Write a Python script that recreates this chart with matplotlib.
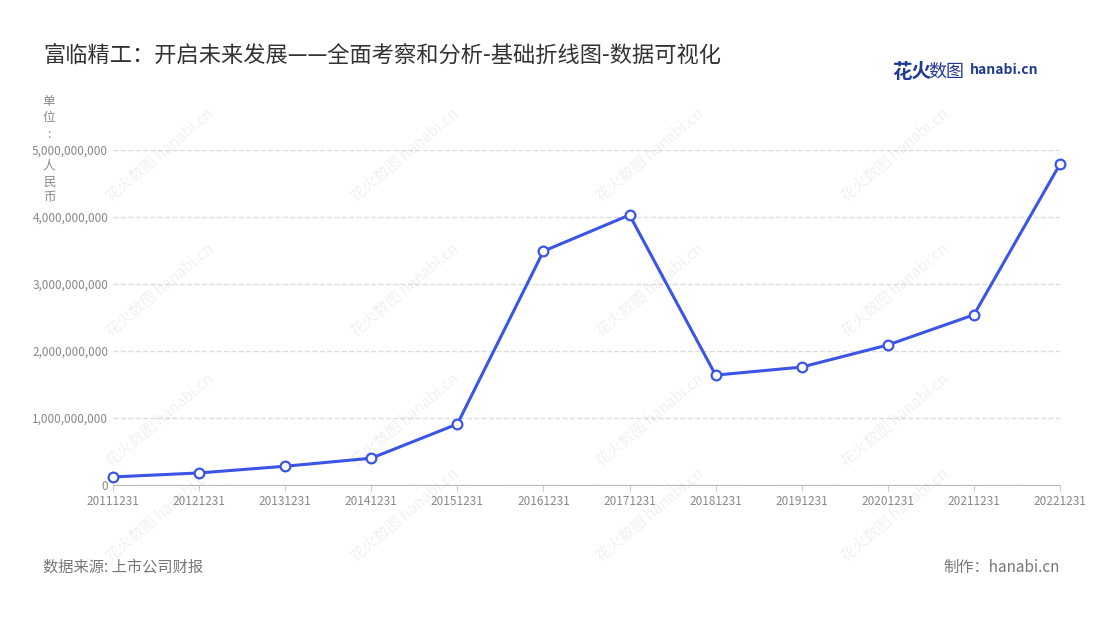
import matplotlib
matplotlib.use("Agg")
import matplotlib.pyplot as plt
from matplotlib.ticker import FuncFormatter

plt.rcParams['font.family'] = ['Noto Sans CJK SC', 'DejaVu Sans']

dates = ['20111231','20121231','20131231','20141231','20151231','20161231',
         '20171231','20181231','20191231','20201231','20211231','20221231']
values = [0.12e9, 0.18e9, 0.28e9, 0.40e9, 0.91e9, 3.49e9,
          4.03e9, 1.64e9, 1.76e9, 2.09e9, 2.54e9, 4.79e9]
yticks = [0, 1e9, 2e9, 3e9, 4e9, 5e9]

fig = plt.figure(figsize=(11, 6.2), dpi=100)
ax = fig.add_axes([113/1100, 1-485/620, (1060-113)/1100, (485-150)/620])
x = list(range(len(dates)))
ax.plot(x, values, color='#3b55e6', lw=2.2, marker='o', ms=7,
        mfc='white', mec='#3b55e6', mew=1.6, zorder=3, clip_on=False)
ax.set_xlim(0, len(dates)-1)
ax.set_ylim(0, 5e9)
ax.set_xticks(x)
ax.set_xticklabels(dates)
ax.set_yticks(yticks)
ax.yaxis.set_major_formatter(FuncFormatter(lambda v, p: f'{int(v):,}'))
ax.tick_params(axis='both', colors='#888888', labelsize=8.5, length=0)
ax.tick_params(axis='x', length=4, color='#cccccc')
ax.grid(axis='y', ls='--', color='#dddddd', lw=1)
for s in ['top', 'right', 'left']:
    ax.spines[s].set_visible(False)
ax.spines['bottom'].set_color('#bbbbbb')

fig.text(43/1100, 1-55/620, '富临精工：开启未来发展——全面考察和分析-基础折线图-数据可视化',
         fontsize=16, color='#333333', va='center')
fig.text(49/1100, 1-150/620, '单\n位\n:\n\n人\n民\n币', fontsize=9, color='#888888',
         va='center', ha='center', linespacing=1.3)
fig.text(43/1100, 1-567/620, '数据来源: 上市公司财报', fontsize=11, color='#777777', va='center')
fig.text(1060/1100, 1-567/620, '制作：hanabi.cn', fontsize=11, color='#777777', va='center', ha='right')
fig.text(892/1100, 1-72/620, '花火', fontsize=14, color='#1f3a93', va='center', weight='bold')
fig.text(928/1100, 1-72/620, '数图', fontsize=13, color='#1f3a93', va='center')
fig.text(970/1100, 1-70/620, 'hanabi.cn', fontsize=10, color='#1f3a93', va='center', weight='bold')

for wx in [160, 405, 650, 895]:
    for wy in [155, 290, 420, 515]:
        fig.text(wx/1100, 1-wy/620, '花火数图 hanabi.cn', fontsize=11, color='#000000',
                 alpha=0.06, rotation=40, ha='center', va='center')

fig.savefig('out.png', dpi=100, facecolor='white')
